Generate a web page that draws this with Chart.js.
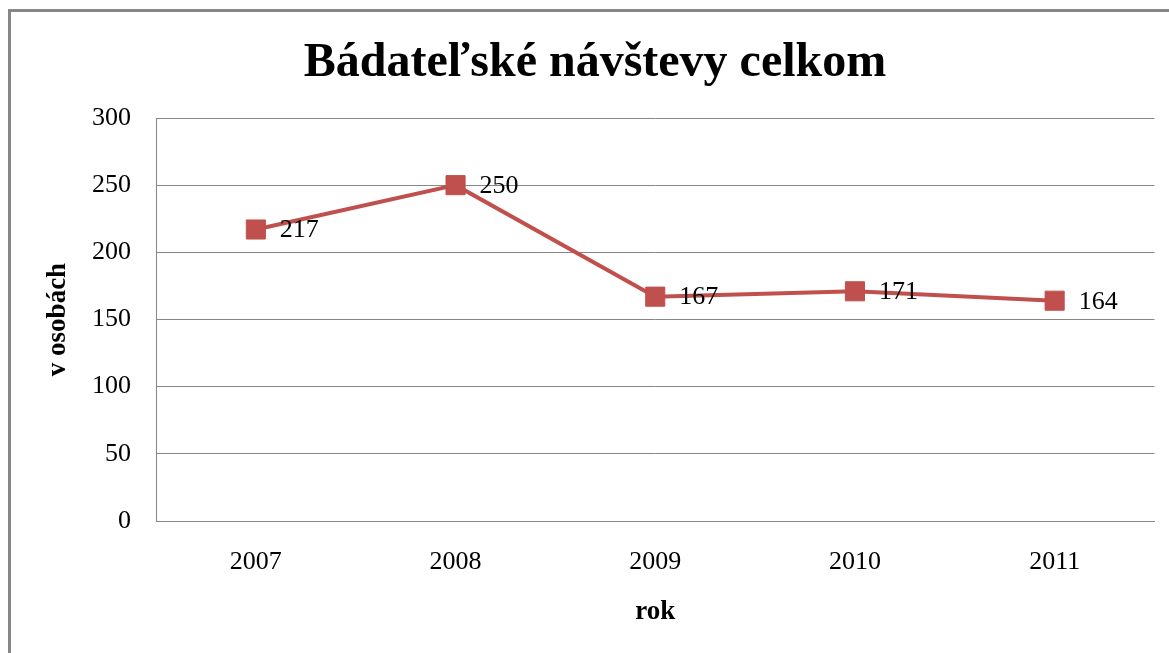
<!DOCTYPE html>
<html>
<head>
<meta charset="utf-8">
<script src="https://cdn.jsdelivr.net/npm/chart.js@4/dist/chart.umd.min.js"></script>
<style>
    html, body { margin: 0; padding: 0; background: #ffffff; }
    #wrap { width: 1169px; height: 653px; }
</style>
</head>
<body>
<div id="wrap"><canvas id="chart" width="1169" height="653"></canvas></div>
<script>
// --- Data ---
const chartTitle = 'Bádateľské návštevy celkom';
const years = ['2007', '2008', '2009', '2010', '2011'];
const visits = [217, 250, 167, 171, 164];
const yTicks = [0, 50, 100, 150, 200, 250, 300];
const xAxisTitle = 'rok';
const yAxisTitle = 'v osobách';

const serif = "'Liberation Serif', 'Times New Roman', serif";
const gridGray = '#868686';
const lineRed = '#C0504D';

// frame + title drawn on the canvas
const framePlugin = {
    id: 'frame',
    beforeDraw(chart) {
        const ctx = chart.ctx;
        ctx.save();
        ctx.strokeStyle = gridGray;
        ctx.lineWidth = 3;
        ctx.strokeRect(9.5, 10.5, 1300, 800);
        ctx.restore();
    },
    afterDraw(chart) {
        const ctx = chart.ctx;
        ctx.save();
        ctx.fillStyle = '#000000';
        ctx.font = 'bold 48px ' + serif;
        ctx.textAlign = 'center';
        ctx.textBaseline = 'alphabetic';
        ctx.fillText(chartTitle, 595, 76);
        ctx.restore();
    }
};

// value labels to the right of each marker
const labelPlugin = {
    id: 'valueLabels',
    afterDatasetsDraw(chart) {
        const ctx = chart.ctx;
        const meta = chart.getDatasetMeta(0);
        ctx.save();
        ctx.fillStyle = '#000000';
        ctx.font = '26px ' + serif;
        ctx.textAlign = 'left';
        ctx.textBaseline = 'middle';
        meta.data.forEach((pt, i) => {
            ctx.fillText(String(visits[i]), pt.x + 24, pt.y + 1);
        });
        ctx.restore();
    }
};

new Chart(document.getElementById('chart'), {
    type: 'line',
    data: {
        labels: years,
        datasets: [{
            data: visits,
            borderColor: lineRed,
            backgroundColor: lineRed,
            borderWidth: 4,
            pointStyle: 'rect',
            pointRadius: 13.5,
            pointBorderWidth: 1,
            pointBackgroundColor: lineRed,
            pointBorderColor: lineRed,
            tension: 0
        }]
    },
    options: {
        responsive: false,
        animation: false,
        devicePixelRatio: 1,
        layout: { padding: { left: 0, right: 14, top: 118, bottom: 0 } },
        plugins: {
            legend: { display: false },
            title: { display: false },
            tooltip: { enabled: false }
        },
        scales: {
            x: {
                offset: true,
                grid: { display: false, drawTicks: false },
                border: { display: true, color: gridGray, width: 1 },
                ticks: { color: '#000000', font: { family: serif, size: 26 }, padding: 26 },
                title: {
                    display: true, text: xAxisTitle, color: '#000000',
                    font: { family: serif, size: 27, weight: 'bold' },
                    padding: { top: 0, bottom: 25 }
                },
                afterFit(scale) { scale.height = 132; }
            },
            y: {
                min: 0,
                max: 300,
                afterBuildTicks(scale) { scale.ticks = yTicks.map(v => ({ value: v })); },
                grid: { color: gridGray, lineWidth: 1, drawTicks: false },
                border: { display: true, color: gridGray, width: 1 },
                ticks: { color: '#000000', font: { family: serif, size: 26 }, padding: 25 },
                title: {
                    display: true, text: yAxisTitle, color: '#000000',
                    font: { family: serif, size: 27, weight: 'bold' },
                    padding: { top: 42, bottom: 0 }
                },
                afterFit(scale) { scale.width = 156; }
            }
        }
    },
    plugins: [framePlugin, labelPlugin]
});
</script>
</body>
</html>
